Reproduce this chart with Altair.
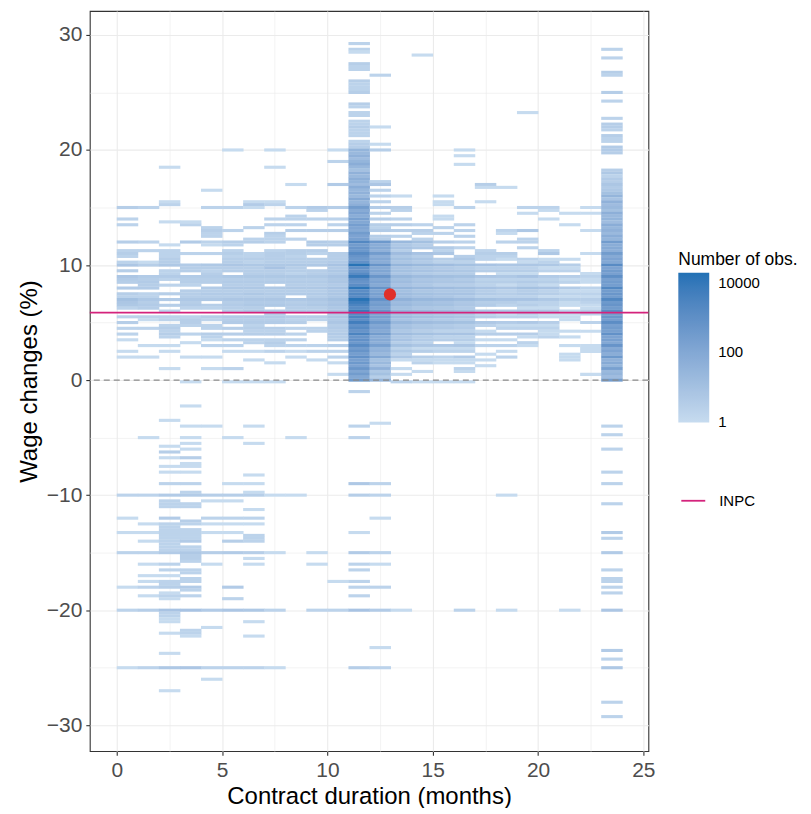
import altair as alt
import pandas as pd

# ---- heat-map cells: per contract-duration bin k = [k, k+1) months ----
# each run: (first wage change, [counts at steps of 0.25 going down]); 0 = empty cell
col_00 = [(15.0, [3]), (14.0, [2]), (13.5, [2]), (12.0, [3]),
          (11.25, [2, 3, 2, 0, 2, 6]), (9.5, [3, 0, 6, 4, 3, 0, 4]),
          (7.5, [3, 2, 10, 6, 5, 2]), (5.5, [2, 0, 3, 0, 2, 0, 2]),
          (3.5, [1]), (2.5, [1]), (2.0, [1]),
          (-10.0, [2]), (-12.0, [1]), (-13.25, [1]), (-15.0, [2]), (-18.0, [1]),
          (-20.0, [2]), (-25.0, [1])]
col_01 = [(15.0, [2]), (12.0, [2]), (11.25, [2]), (10.25, [1, 3]),
          (9.0, [4, 3, 4, 3, 4]), (7.5, [2, 2, 5, 3, 4, 3]), (5.5, [2, 1]),
          (4.5, [2]), (3.0, [1]), (2.0, [1]),
          (-5.0, [1]), (-10.0, [2]), (-12.5, [1]), (-13.25, [1]), (-14.0, [1]),
          (-15.0, [2]), (-16.0, [1]), (-17.0, [1]), (-17.5, [1]), (-18.0, [2]),
          (-18.75, [1]), (-20.0, [3]), (-25.0, [2])]
col_02 = [(18.5, [1]), (15.5, [1, 2]), (13.75, [1]),
          (11.75, [1, 0, 2, 2, 2, 3, 3, 5]), (9.5, [2, 2, 4, 2, 0, 2]),
          (7.5, [3, 0, 4, 0, 3, 0, 2, 0, 2, 2, 0, 2, 3, 2, 3, 2]),
          (3.0, [1]), (2.5, [1]), (1.0, [1]),
          (-3.5, [1]), (-5.75, [1]), (-6.25, [3]), (-6.75, [1]), (-7.5, [1]),
          (-8.0, [1]), (-9.0, [2]), (-10.0, [4, 0, 2, 2, 2]),
          (-12.0, [4, 0, 2, 2, 2, 2, 2, 2, 2, 2, 2, 2, 4]),
          (-16.0, [2, 0, 2, 0, 1, 0, 2, 2, 3, 0, 1, 2, 1]),
          (-20.0, [8, 2, 2, 1, 1]), (-22.0, [1]), (-23.75, [1]), (-25.0, [5]),
          (-27.0, [1])]
col_03 = [(13.75, [1, 2]), (12.0, [4]), (11.0, [2]),
          (10.0, [4, 3, 3, 0, 4, 3, 3, 2]), (7.75, [3, 3, 3, 5, 3, 4, 2]),
          (5.5, [2, 3, 3, 2]), (4.0, [2]), (3.25, [1]), (2.0, [1]), (-0.15, [1]),
          (-2.25, [1]), (-4.0, [1]), (-5.0, [1]), (-5.5, [1]), (-6.0, [1]),
          (-6.75, [3]), (-7.25, [1, 1]), (-8.0, [1]), (-9.0, [2]), (-9.75, [2, 4]),
          (-10.75, [2, 2]),
          (-12.25, [3, 2, 0, 2, 2, 2, 2, 4, 0, 2, 2, 5, 3, 3, 2]),
          (-16.5, [2, 2, 0, 2, 2, 0, 4, 2, 0, 2]),
          (-20.0, [8]), (-21.75, [2, 2, 1]), (-25.0, [6])]
col_04 = [(16.5, [1]), (15.0, [2]), (13.25, [2, 3, 2, 2, 0, 2, 1]), (11.0, [2]),
          (10.0, [5, 3, 2, 3, 4, 3, 3, 0, 4, 3, 4, 3, 5, 0, 3, 2]),
          (5.5, [3, 2, 0, 2, 2, 0, 3, 2, 1, 0, 2]), (2.0, [1]), (1.0, [1]),
          (-4.0, [1]), (-10.0, [3, 0, 1]), (-12.0, [2, 0, 1]), (-13.25, [1]),
          (-15.0, [3]), (-16.0, [1]), (-20.0, [4]), (-21.5, [1]), (-25.0, [2]),
          (-26.0, [1])]
col_05 = [(20.0, [1]), (15.0, [2]), (13.0, [2]),
          (12.0, [3, 2, 0, 2, 3, 2, 3, 3, 6, 3, 3, 0, 5, 3, 4, 3, 5, 3, 4, 3, 6,
                  3, 4, 3, 3, 0, 4, 3, 4, 0, 3, 0, 3]),
          (3.5, [2, 0, 2, 0, 1]), (1.0, [2]), (-0.15, [1]),
          (-5.0, [1]), (-9.0, [1]), (-10.0, [3, 0, 1]), (-12.0, [2, 0, 1]),
          (-13.25, [1]), (-14.0, [3]), (-15.0, [4]), (-18.0, [4]), (-19.0, [2]),
          (-20.0, [6]), (-25.0, [2])]
col_06 = [(15.5, [1, 4, 1]), (13.25, [2]), (12.25, [2, 3]),
          (11.0, [2, 2, 3, 2, 5, 3, 3, 3, 5, 3, 4, 3, 5, 3, 5, 3, 6, 4, 5, 3, 5,
                  0, 4, 3, 4, 2, 3, 2, 3, 0, 2, 2]),
          (2.5, [1]), (1.75, [1]), (-0.15, [1]),
          (-4.0, [1]), (-5.5, [1]), (-8.25, [1]), (-9.0, [1]), (-9.75, [1, 3]),
          (-11.25, [1]), (-12.0, [2, 0, 1]), (-13.5, [2, 2, 2]), (-15.0, [3, 0, 1]),
          (-16.0, [1]), (-20.0, [5]), (-21.0, [1]), (-22.25, [1]), (-25.0, [2])]
col_07 = [(20.0, [1]), (18.5, [1]), (15.5, [1, 2]), (14.0, [2]), (13.5, [2]),
          (12.75, [3, 2, 2, 2, 0, 0, 2, 3, 3, 3, 3, 5, 8, 3, 3, 5, 3, 4, 0, 5, 3,
                   4, 3, 6, 4, 5, 0, 4, 3, 4, 3, 4, 0, 3, 2, 3, 0, 2, 3, 2, 0, 2]),
          (1.5, [1]), (-0.15, [1]),
          (-10.0, [1]), (-15.0, [1]), (-20.0, [2]), (-25.0, [1])]
col_08 = [(17.0, [1]), (15.0, [2]),
          (14.25, [2, 2, 0, 2, 0, 3, 0, 0, 2, 0, 0, 0, 3, 3, 2, 3, 3, 5, 3, 3, 2,
                   5, 3, 4, 3, 5, 3, 4, 0, 5, 3, 4, 3, 4, 0, 3, 2, 3, 0, 2, 0, 2,
                   0, 2, 0, 2, 0, 1, 0, 1]),
          (-5.0, [1]), (-10.0, [1])]
col_09 = [(15.0, [4, 2, 0, 0, 2, 0, 0, 0, 3, 0, 0, 0, 4, 3, 0, 3, 2, 0, 3, 3, 5,
                  0, 3, 3, 5, 3, 4, 3, 5, 3, 4, 3, 6, 4, 5, 3, 4, 0, 3, 2, 0, 0,
                  2, 2, 0, 0, 0, 0, 2, 0, 2, 0, 0, 1]),
          (-15.0, [1]), (-16.0, [1]), (-20.0, [2])]
col_10 = [(20.0, [1]), (19.0, [2]), (17.0, [4]), (15.0, [3]), (14.0, [2]),
          (13.5, [2]), (13.0, [3]),
          (12.0, [3, 3, 0, 0, 3, 3, 3, 4, 8, 4, 5, 4, 8, 5, 6, 4, 8, 5, 6, 5, 10,
                  6, 8, 5, 8, 4, 6, 4, 6, 3, 4, 3, 4, 3, 3, 0, 3, 0, 2, 0, 2, 0,
                  1, 0, 0, 0, 1]),
          (-17.5, [1]), (-20.0, [2])]
col_11 = [(29.25, [2, 0, 2, 1]), (27.5, [3, 2, 2]), (26.0, [3, 2, 2, 2, 3]),
          (24.0, [3, 2, 0, 2, 2, 0, 2, 2, 3, 2, 2, 2, 0, 2, 3, 3, 30]),
          (19.75, [20, 40, 15, 30, 60, 25, 10, 40, 20, 50, 30, 15, 60, 25, 40, 20,
                   80, 30, 50, 300, 80, 150, 60, 200, 100, 250, 120, 80, 300, 150,
                   200, 2000, 300, 500, 400, 1500, 600, 400, 800, 15000, 800, 600,
                   1500, 8000, 1000, 600, 1200, 12000, 1200, 2000, 1500, 15000,
                   6000, 3000, 1500, 8000, 1500, 3000, 1000, 5000, 800, 1500, 600,
                   3000, 500, 800, 400, 1500, 300, 600, 250, 800, 200, 400, 150,
                   500, 120, 300, 100, 400]),
          (-1.0, [2]), (-4.0, [2]), (-5.0, [2]), (-9.0, [5]), (-10.0, [3]),
          (-13.25, [1]), (-15.0, [4]), (-16.0, [2]), (-16.5, [2]), (-17.5, [2]),
          (-18.0, [2]), (-18.75, [2]), (-20.0, [8]), (-25.0, [3])]
col_12 = [(26.5, [2]), (22.0, [1]), (20.5, [1]), (20.0, [3]), (17.25, [2, 6]),
          (16.5, [2]), (16.0, [2]), (15.5, [2, 0, 4]),
          (14.5, [2, 0, 3, 0, 3, 2, 4, 0, 3, 3]),
          (12.0, [400, 60, 80, 40, 300, 50, 100, 60, 600, 80, 120, 70, 500, 100,
                  150, 80, 600, 120, 200, 150, 800, 200, 300, 150, 600, 150, 200,
                  120, 400, 100, 150, 80, 300, 60, 80, 50, 200, 30, 40, 20, 100,
                  10, 20, 8, 40, 5, 10, 3, 30]),
          (-3.75, [1]), (-9.0, [2]), (-10.0, [2]), (-12.0, [1]), (-15.0, [2]),
          (-16.0, [1]), (-18.0, [2]), (-20.0, [4]), (-23.25, [1]), (-25.0, [2])]
col_13 = [(16.0, [1]), (15.0, [3, 2]), (14.0, [2]), (13.5, [3]), (13.0, [3]),
          (12.5, [2]),
          (12.0, [20, 5, 8, 3, 15, 5, 10, 6, 30, 8, 10, 6, 25, 10, 15, 8, 30, 10,
                  15, 12, 40, 15, 20, 10, 30, 12, 15, 8, 25, 8, 10, 5, 15, 5, 8, 3,
                  10, 2, 5, 2, 6, 1]),
          (1.0, [1]), (0.5, [1]), (-0.15, [2]), (-20.0, [1])]
col_14 = [(28.25, [1]), (13.5, [2]), (13.0, [3, 2]), (12.25, [2]),
          (12.0, [10, 3, 5, 0, 8, 3, 6, 4, 20, 5, 8, 4, 15, 6, 8, 5, 20, 6, 10, 8,
                  25, 10, 12, 6, 20, 8, 10, 5, 15, 5, 6, 3, 10, 3, 4, 2, 6, 1, 3,
                  0, 3, 1, 2]),
          (0.75, [1]), (-0.15, [1])]
col_15 = [(16.0, [1]), (15.5, [1, 1]), (14.25, [1, 1]), (13.25, [2]),
          (12.75, [2]), (12.0, [3]),
          (11.5, [4, 2, 6, 0, 3, 2, 15, 4, 6, 3, 12, 5, 6, 3, 15, 5, 8, 6, 20, 8,
                  10, 5, 15, 6, 8, 4, 12, 4, 5, 2, 8, 2, 3, 0, 5, 1, 2, 0, 2, 1,
                  1]),
          (-0.15, [1])]
col_16 = [(20.0, [1]), (19.5, [1]), (18.75, [1]), (15.0, [2]), (13.5, [2]),
          (13.0, [2]), (12.5, [2]), (12.0, [2]), (11.5, [2]),
          (10.75, [3, 5, 2, 10, 3, 5, 3, 10, 4, 6, 3, 12, 5, 8, 4, 15, 5, 6, 4,
                   12, 5, 6, 3, 10, 3, 4, 2, 8, 2, 3, 1, 6, 1, 2, 0, 4, 1, 1, 0,
                   2, 1]),
          (-0.15, [1]), (-20.0, [2])]
col_17 = [(17.0, [3, 1]), (15.5, [1]), (11.25, [2, 3, 2]),
          (10.5, [2, 0, 8, 2, 3, 0, 6, 2, 3, 2, 8, 3, 4, 2, 10, 3, 4, 0, 6, 2, 3,
                  0, 5, 2, 0, 1, 3, 0, 1, 0, 2, 0, 0, 1, 0, 1, 0, 1])]
col_18 = [(16.75, [1]), (13.0, [2, 1]), (12.0, [2]),
          (11.0, [3, 2, 1, 0, 6, 2, 3, 1, 5, 2, 3, 1, 6, 2, 3, 2, 8, 3, 2, 0, 5,
                  1, 2, 0, 4, 1, 2, 0, 3, 0, 1, 0, 2, 0, 1, 0, 2]),
          (-10.0, [1]), (-20.0, [1])]
col_19 = [(23.25, [1]), (15.0, [2, 0, 1]), (13.0, [5]), (12.25, [2, 2]),
          (11.5, [2]),
          (10.5, [2, 1, 6, 2, 3, 1, 8, 2, 4, 2, 10, 3, 4, 2, 8, 2, 3, 1, 6, 2, 2,
                  0, 5, 1, 2, 0, 3, 1, 0, 2, 1])]
col_20 = [(15.0, [2, 1]), (14.0, [1]), (11.25, [2, 5]),
          (10.5, [1, 2, 5, 1, 2, 0, 4, 2, 3, 1, 8, 2, 3, 1, 5, 2, 2, 1, 6, 1, 1,
                  0, 3, 1, 2, 1, 1, 2])]
col_21 = [(14.5, [1]), (13.5, [1]),
          (10.5, [1, 0, 3, 1, 2, 0, 3, 1, 2, 0, 4, 1, 2, 1, 3, 1, 1, 0, 2, 1, 1,
                  1]),
          (4.25, [1]), (3.75, [1]), (3.0, [1]), (2.25, [1, 1, 1]), (-20.0, [1])]
col_22 = [(15.0, [1]), (14.5, [1]), (13.0, [1]), (11.0, [1]),
          (9.25, [1, 2, 1, 1, 0, 2, 1, 2, 1, 3, 2, 1, 1, 3, 2]),
          (5.0, [2]), (4.25, [1]), (3.0, [1, 1, 1]), (0.5, [1])]
col_23 = [(28.75, [2]), (28.0, [2]), (26.75, [3, 2]), (25.0, [3]), (24.25, [2]),
          (22.75, [2]), (22.25, [3, 3, 2]), (21.25, [3, 2, 2]), (20.25, [4, 4, 3]),
          (18.25, [3, 5, 2, 4, 3, 6, 4, 5, 10, 30, 8, 40, 15, 20, 10, 50, 20, 30,
                   15, 60, 25, 40, 20, 60, 30, 300, 60, 80, 50, 300, 80, 150, 100,
                   1500, 150, 300, 200, 1000, 200, 300, 250, 2000, 300, 500, 300,
                   2000, 400, 600, 300, 1500, 300, 500, 250, 1200, 200, 300, 200,
                   800, 150, 200, 100, 600, 80, 150, 60, 400, 40, 80, 30, 200, 20,
                   30, 15, 300]),
          (-4.0, [2]), (-4.75, [2]), (-6.0, [2]), (-8.0, [2]), (-9.0, [2]),
          (-10.75, [2]), (-13.25, [4]), (-13.75, [2]), (-15.0, [4]), (-16.5, [2]),
          (-17.25, [2, 2]), (-18.0, [2]), (-18.5, [2]), (-20.0, [6]), (-23.5, [4]),
          (-24.25, [2]), (-25.0, [5]), (-28.0, [2]), (-29.25, [2])]

columns = [col_00, col_01, col_02, col_03, col_04, col_05, col_06, col_07,
           col_08, col_09, col_10, col_11, col_12, col_13, col_14, col_15,
           col_16, col_17, col_18, col_19, col_20, col_21, col_22, col_23]

mean_duration = [12.97]
mean_wage = [7.45]
inpc_value = [5.87]
inpc_label = ["INPC"]

x_ticks = [0, 2.5, 5, 7.5, 10, 12.5, 15, 17.5, 20, 22.5, 25]
y_ticks = [-30, -25, -20, -15, -10, -5, 0, 5, 10, 15, 20, 25, 30]
legend_values = [1, 100, 10000]

rows = []
for k, runs in enumerate(columns):
    for top, counts in runs:
        for i, c in enumerate(counts):
            if c > 0:
                rows.append({"dur": k, "wage": top - 0.25 * i, "n": c})
cells = pd.DataFrame(rows)

x_scale = alt.Scale(domain=[-1.28, 25.24], nice=False, zero=False)
y_scale = alt.Scale(domain=[-32.25, 32.08], nice=False, zero=False)

x_axis = alt.Axis(
    values=x_ticks, title="Contract duration (months)",
    labelExpr="datum.value % 5 === 0 ? datum.label : ''",
    tickOpacity={"condition": {"test": "datum.value % 5 !== 0", "value": 0}, "value": 1},
    gridWidth={"condition": {"test": "datum.value % 5 !== 0", "value": 0.6}, "value": 1.1},
    titlePadding=4,
)
y_axis = alt.Axis(
    values=y_ticks, title="Wage changes (%)",
    labelExpr="datum.value % 10 === 0 ? datum.label : ''",
    tickOpacity={"condition": {"test": "datum.value % 10 !== 0", "value": 0}, "value": 1},
    gridWidth={"condition": {"test": "datum.value % 10 !== 0", "value": 0.6}, "value": 1.1},
    titlePadding=5,
)

heat = alt.Chart(cells).transform_calculate(
    x2="datum.dur + 1.02", ylo="datum.wage - 0.135", yhi="datum.wage + 0.135"
).mark_rect().encode(
    x=alt.X("dur:Q", scale=x_scale, axis=x_axis),
    x2="x2:Q",
    y=alt.Y("ylo:Q", scale=y_scale, axis=y_axis),
    y2="yhi:Q",
    fill=alt.Fill(
        "n:Q",
        scale=alt.Scale(type="log", domain=[0.97, 19000],
                        range=["#c6dbef", "#2171b5"], interpolate="lab"),
        legend=alt.Legend(
            title="Number of obs.", orient="none", legendX=590, legendY=241,
            direction="vertical", gradientLength=150, gradientThickness=31,
            gradientStrokeWidth=0, values=legend_values, format="d",
            labelFontSize=15, labelOffset=9, labelColor="black",
            titleFontSize=17.5, titleFontWeight="normal", titleColor="black",
            titlePadding=4, padding=0,
        ),
    ),
)

zero_line = alt.Chart(pd.DataFrame({"wage": [0.0]})).mark_rule(
    color="#8a8a8a", strokeDash=[6, 4], strokeWidth=1.2
).encode(y=alt.Y("wage:Q", scale=y_scale, axis=y_axis))

inpc_line = alt.Chart(pd.DataFrame({"wage": inpc_value, "lbl": inpc_label})).mark_rule(
    strokeWidth=1.8
).encode(
    y=alt.Y("wage:Q", scale=y_scale, axis=y_axis),
    stroke=alt.Stroke(
        "lbl:N",
        scale=alt.Scale(domain=inpc_label, range=["#d4237c"]),
        legend=alt.Legend(
            title=None, orient="none", legendX=592, legendY=478,
            symbolType="stroke", symbolSize=576, symbolStrokeWidth=1.8,
            labelFontSize=15, labelOffset=13, labelColor="black", padding=0,
        ),
    ),
)

point = alt.Chart(pd.DataFrame({"dur": mean_duration, "wage": mean_wage})).mark_circle(
    size=150, color="#e0302a", opacity=1
).encode(
    x=alt.X("dur:Q", scale=x_scale, axis=x_axis),
    y=alt.Y("wage:Q", scale=y_scale, axis=y_axis),
)

chart = alt.layer(heat, zero_line, inpc_line, point).properties(
    width=560, height=742,
    autosize=alt.AutoSizeParams(type="none"),
    padding={"left": 82, "top": 2, "right": 155, "bottom": 56},
).configure(
    font="Liberation Sans",
).configure_view(
    stroke="#333333", strokeWidth=1.1,
).configure_axis(
    domain=False, tickColor="#333333", tickSize=4, tickWidth=1.1,
    labelFontSize=21, labelColor="#4d4d4d", labelPadding=4,
    titleFontSize=24, titleFontWeight="normal", titleColor="black",
    gridColor="#ebebeb",
)

chart.save("out.html", embed_options={"renderer": "svg", "actions": False})
